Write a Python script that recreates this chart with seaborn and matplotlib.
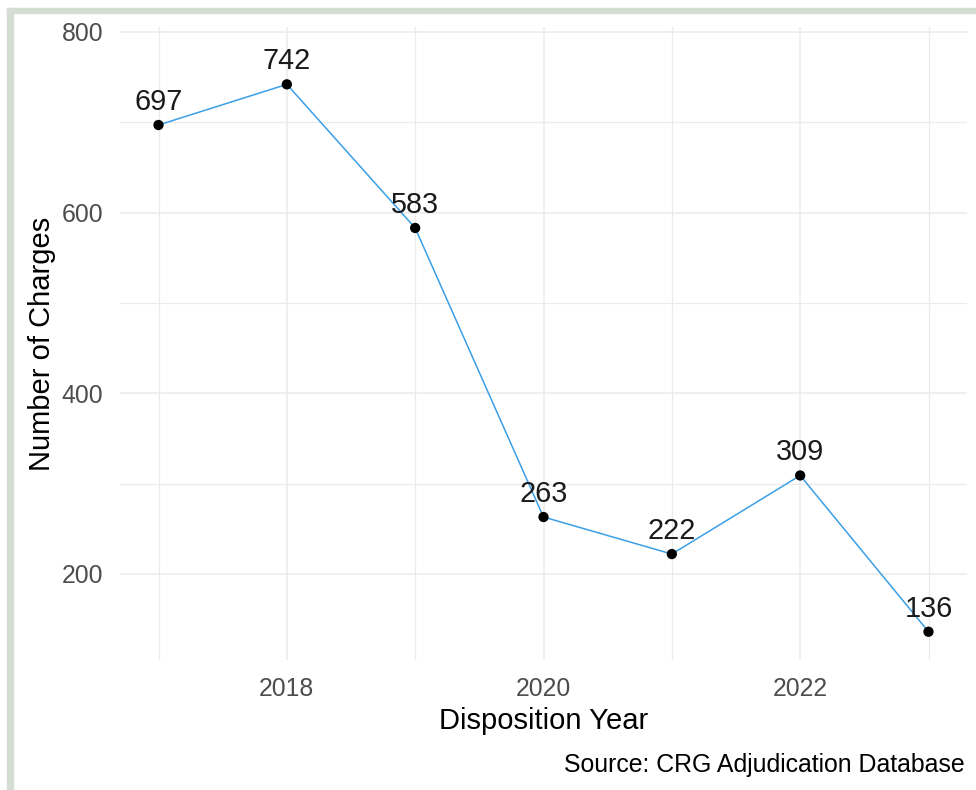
import numpy as np
import pandas as pd
import matplotlib
matplotlib.use("Agg")
import matplotlib.pyplot as plt
import seaborn as sns
from matplotlib.patches import Rectangle

# Data
years = [2017, 2018, 2019, 2020, 2021, 2022, 2023]
charges = [697, 742, 583, 263, 222, 309, 136]
major_x = [2018, 2020, 2022]
minor_x = [2017, 2019, 2021, 2023]
major_y = [200, 400, 600, 800]
minor_y = [300, 500, 700]

df = pd.DataFrame({"year": years, "charges": charges})

sns.set_theme(style="white")
plt.rcParams["font.family"] = ["Liberation Sans", "DejaVu Sans"]

fig = plt.figure(figsize=(9.76, 7.9), dpi=100)
ax = fig.add_axes([120 / 976, 1 - 660 / 790, 847 / 976, 633 / 790])

# Line and points
sns.lineplot(data=df, x="year", y="charges", color="#3A9FE6", linewidth=1.1, ax=ax, zorder=2)
sns.scatterplot(data=df, x="year", y="charges", color="black", s=55, edgecolor="none", ax=ax, zorder=3)

# Value labels
for x, v in zip(years, charges):
    ax.annotate(str(v), (x, v), xytext=(0, 6.5), textcoords="offset points",
                ha="center", va="bottom", fontsize=20.8, color="#1a1a1a", zorder=4)

# Scales
ax.set_xlim(2017 - 0.3, 2023 + 0.3)
ax.set_ylim(104.7, 805.5)
ax.set_xticks(major_x)
ax.set_xticks(minor_x, minor=True)
ax.set_yticks(major_y)
ax.set_yticks(minor_y, minor=True)

# Minimal theme look
ax.grid(which="major", color="#ebebeb", linewidth=1.1)
ax.grid(which="minor", color="#ebebeb", linewidth=0.9)
ax.set_axisbelow(True)
for s in ax.spines.values():
    s.set_visible(False)
ax.tick_params(which="both", length=0)
ax.tick_params(axis="x", labelsize=17.8, labelcolor="#4d4d4d", pad=12)
ax.tick_params(axis="y", labelsize=17.8, labelcolor="#4d4d4d", pad=12)

ax.set_xlabel("Disposition Year", fontsize=21, color="black", va="baseline")
ax.set_ylabel("Number of Charges", fontsize=21, color="black", va="center")
ax.xaxis.set_label_coords(0.5, -(729 - 660) / 633)
ax.yaxis.set_label_coords((42 - 120) / 847, 0.5)

fig.text(965 / 976, 1 - 772 / 790, "Source: CRG Adjudication Database",
         ha="right", va="baseline", fontsize=17.9, color="black")

# Light frame at top and left
fig.patches.append(Rectangle((7 / 976, 0), 6 / 976, 782 / 790, transform=fig.transFigure,
                             color="#d3ddd2", zorder=0))
fig.patches.append(Rectangle((7 / 976, 1 - 13 / 790), 969 / 976, 5 / 790, transform=fig.transFigure,
                             color="#d3ddd2", zorder=0))

fig.savefig("out.png", dpi=100)
